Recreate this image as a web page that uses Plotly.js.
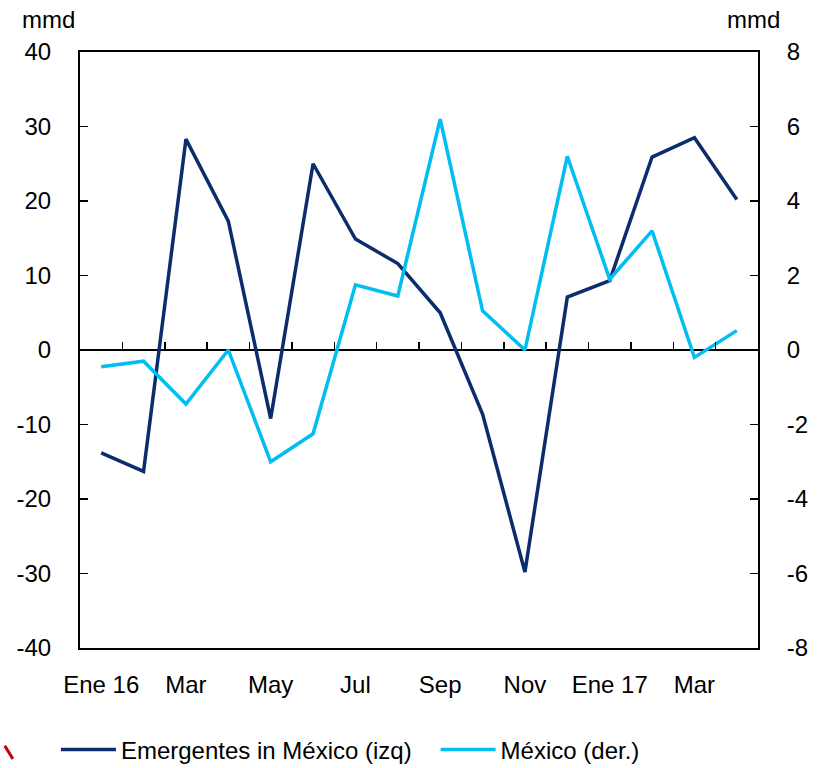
<!DOCTYPE html>
<html>
<head>
<meta charset="utf-8">
<script src="https://cdn.plot.ly/plotly-3.0.1.min.js"></script>
<style>
  html, body { margin: 0; padding: 0; background: #fff; }
  #chart { width: 821px; height: 768px; }
</style>
</head>
<body>
<div id="chart"></div>
<script>
// Flujos de cartera: emergentes vs. México (mmd)
const months = ['Ene 16','Feb 16','Mar 16','Abr 16','May 16','Jun 16','Jul 16','Ago 16',
                'Sep 16','Oct 16','Nov 16','Dic 16','Ene 17','Feb 17','Mar 17','Abr 17'];
const monthLabels = ['Ene 16','','Mar','','May','','Jul','','Sep','','Nov','','Ene 17','','Mar',''];

const emergentes = [-13.8, -16.3, 28.3, 17.3, -9.2, 25.0, 14.9, 11.6, 5.0, -8.6, -29.8, 7.1, 9.3, 25.9, 28.5, 20.2];
const mexico = [-0.45, -0.3, -1.45, 0.0, -3.0, -2.25, 1.75, 1.45, 6.2, 1.05, 0.0, 5.2, 1.9, 3.2, -0.2, 0.52];

const leftTicks = [-40, -30, -20, -10, 0, 10, 20, 30, 40];
const rightTicks = [-8, -6, -4, -2, 0, 2, 4, 6, 8];

const NAVY = '#0b2d6c';
const CYAN = '#00bdf2';
const FONT = '"Liberation Sans", Arial, sans-serif';
const FS = 24;

// guion simple en los negativos, como en el original
const label = v => String(v).replace('\u2212', '-');

const traces = [
  { x: months, y: emergentes, type: 'scatter', mode: 'lines', name: 'Emergentes in México (izq)',
    line: { color: NAVY, width: 3.5 }, yaxis: 'y', legend: 'legend' },
  { x: months, y: mexico, type: 'scatter', mode: 'lines', name: 'México (der.)',
    line: { color: CYAN, width: 3.5 }, yaxis: 'y2', legend: 'legend2' },
  // eje auxiliar: marcas de mes sobre la línea de cero
  { x: [], y: [], type: 'scatter', mode: 'lines', xaxis: 'x2', yaxis: 'y', showlegend: false, hoverinfo: 'skip' }
];

const legendBase = {
  orientation: 'h', y: -0.171, xanchor: 'left', yanchor: 'middle',
  font: { family: FONT, size: FS, color: '#000' }, itemwidth: 55, bgcolor: 'rgba(0,0,0,0)'
};

const layout = {
  width: 821, height: 768,
  margin: { l: 80, r: 63, t: 52, b: 120, autoexpand: false },
  paper_bgcolor: '#fff', plot_bgcolor: '#fff',
  font: { family: FONT, size: FS, color: '#000' },
  showlegend: true,
  legend: Object.assign({}, legendBase, { x: -0.0355 }),
  legend2: Object.assign({}, legendBase, { x: 0.5245 }),
  xaxis: {
    type: 'category', categoryarray: months, range: [-0.5, months.length - 0.5],
    tickvals: months, ticktext: monthLabels, ticks: '', ticklabelstandoff: 14,
    showline: true, linecolor: '#000', linewidth: 2, mirror: true,
    showgrid: false, zeroline: false, fixedrange: true
  },
  xaxis2: {
    type: 'linear', overlaying: 'x', anchor: 'free', position: 0.5, side: 'top',
    range: [-0.5, months.length - 0.5],
    tickvals: months.slice(1).map((_, i) => i + 0.5),
    ticks: 'outside', ticklen: 8, tickwidth: 1.5, tickcolor: '#000',
    showticklabels: false, showline: false, showgrid: false, zeroline: false
  },
  yaxis: {
    range: [-40, 40], tickvals: leftTicks, ticktext: leftTicks.map(label),
    ticks: 'inside', ticklen: 8, tickwidth: 1.5, tickcolor: '#000', ticklabelstandoff: 22,
    showline: true, linecolor: '#000', linewidth: 2,
    showgrid: false, zeroline: true, zerolinecolor: '#000', zerolinewidth: 2, fixedrange: true
  },
  yaxis2: {
    overlaying: 'y', side: 'right', range: [-8, 8], tickvals: rightTicks, ticktext: rightTicks.map(label),
    ticks: 'inside', ticklen: 8, tickwidth: 1.5, tickcolor: '#000', ticklabelstandoff: 22,
    showline: true, linecolor: '#000', linewidth: 2,
    showgrid: false, zeroline: false, fixedrange: true
  },
  annotations: [
    { text: 'mmd', xref: 'paper', yref: 'paper', x: -0.088, y: 1.055, xanchor: 'left', yanchor: 'middle',
      showarrow: false, font: { family: FONT, size: FS } },
    { text: 'mmd', xref: 'paper', yref: 'paper', x: 1.035, y: 1.055, xanchor: 'right', yanchor: 'middle',
      showarrow: false, font: { family: FONT, size: FS } }
  ],
  // pequeño trazo rojo residual en la esquina inferior izquierda del original
  shapes: [
    { type: 'line', xref: 'paper', yref: 'paper', x0: -0.111, y0: -0.164, x1: -0.099, y1: -0.186,
      line: { color: '#c00000', width: 3 } }
  ]
};

Plotly.newPlot('chart', traces, layout, { staticPlot: true, displayModeBar: false });
</script>
</body>
</html>
